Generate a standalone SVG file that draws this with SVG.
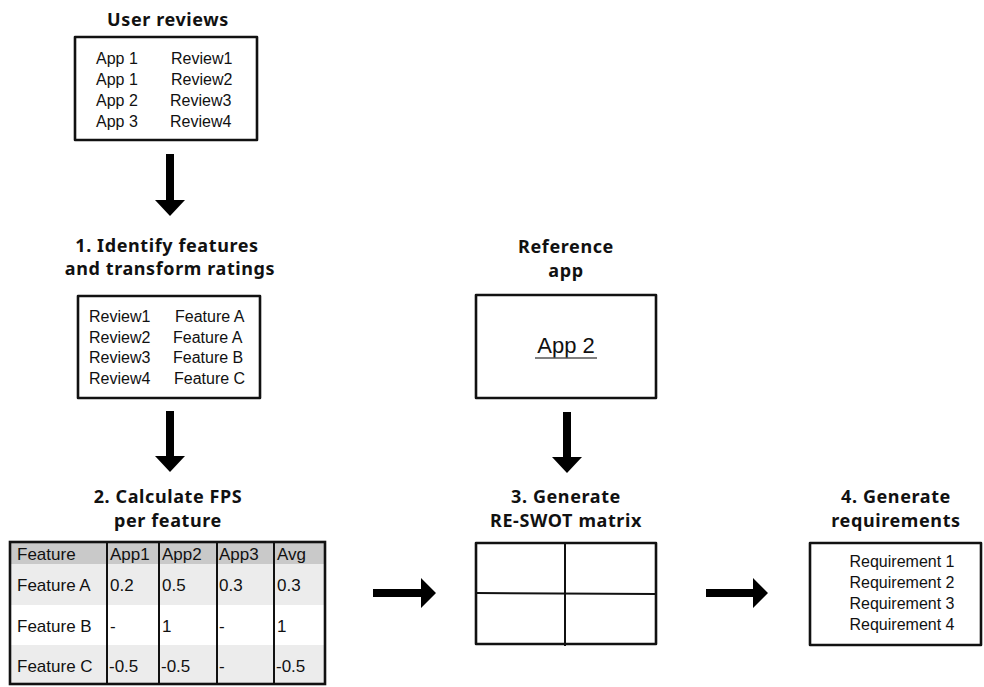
<svg xmlns="http://www.w3.org/2000/svg" width="984" height="687" viewBox="0 0 984 687">
  <style>
    .title { font-family: "Noto Sans", "DejaVu Sans", sans-serif; font-weight: bold; font-size: 18px; letter-spacing: 0.6px; fill: #111; text-anchor: middle; }
    .txt { font-family: "Liberation Sans", Arial, sans-serif; font-size: 16px; fill: #111; }
    .cell { font-family: "Liberation Sans", Arial, sans-serif; font-size: 17px; fill: #111; }
    .box { fill: #fff; stroke: #111; stroke-width: 2.6; stroke-linejoin: round; }
    .grid { fill: none; stroke: #111; stroke-width: 2; }
    .arrow { fill: #000; }
  </style>

  <rect width="984" height="687" fill="#fff"/>

  <!-- Input: user reviews -->
  <g id="user-reviews">
    <text class="title" x="168" y="26">User reviews</text>
    <rect class="box" x="75" y="37" width="182" height="103"/>
    <text class="txt" x="96" y="64">App 1</text>
    <text class="txt" x="171" y="64">Review1</text>
    <text class="txt" x="96" y="85">App 1</text>
    <text class="txt" x="171" y="85">Review2</text>
    <text class="txt" x="96" y="106">App 2</text>
    <text class="txt" x="170" y="106">Review3</text>
    <text class="txt" x="96" y="127">App 3</text>
    <text class="txt" x="170" y="127">Review4</text>
  </g>

  <!-- Step 1: identify features -->
  <g id="identify-features">
    <text class="title" x="167" y="252">1. Identify features</text>
    <text class="title" x="170" y="275">and transform ratings</text>
    <rect class="box" x="78" y="296" width="182" height="102"/>
    <text class="txt" x="89" y="322">Review1</text>
    <text class="txt" x="175" y="322">Feature A</text>
    <text class="txt" x="89" y="343">Review2</text>
    <text class="txt" x="173" y="343">Feature A</text>
    <text class="txt" x="89" y="363">Review3</text>
    <text class="txt" x="173" y="363">Feature B</text>
    <text class="txt" x="89" y="384">Review4</text>
    <text class="txt" x="174" y="384">Feature C</text>
  </g>

  <!-- Step 2: FPS table -->
  <g id="fps-table">
    <text class="title" x="168" y="503">2. Calculate FPS</text>
    <text class="title" x="168" y="527">per feature</text>
    <rect x="10" y="542" width="315" height="22" fill="#c9c9c9"/>
    <rect x="10" y="564" width="315" height="41" fill="#ececec"/>
    <rect x="10" y="605" width="315" height="40" fill="#ffffff"/>
    <rect x="10" y="645" width="315" height="39" fill="#ececec"/>
    <line class="grid" x1="107" y1="542" x2="107" y2="684"/>
    <line class="grid" x1="159" y1="542" x2="159" y2="684"/>
    <line class="grid" x1="217" y1="542" x2="217" y2="684"/>
    <line class="grid" x1="274" y1="542" x2="274" y2="684"/>
    <rect x="10" y="542" width="315" height="142" fill="none" stroke="#111" stroke-width="2.6"/>
    <text class="cell" x="17" y="560">Feature</text>
    <text class="cell" x="110" y="560">App1</text>
    <text class="cell" x="162" y="560">App2</text>
    <text class="cell" x="219" y="560">App3</text>
    <text class="cell" x="277" y="560">Avg</text>
    <text class="cell" x="17" y="591">Feature A</text>
    <text class="cell" x="110" y="591">0.2</text>
    <text class="cell" x="162" y="591">0.5</text>
    <text class="cell" x="219" y="591">0.3</text>
    <text class="cell" x="277" y="591">0.3</text>
    <text class="cell" x="17" y="632">Feature B</text>
    <text class="cell" x="110" y="632">-</text>
    <text class="cell" x="162" y="632">1</text>
    <text class="cell" x="219" y="632">-</text>
    <text class="cell" x="277" y="632">1</text>
    <text class="cell" x="17" y="672">Feature C</text>
    <text class="cell" x="109" y="672">-0.5</text>
    <text class="cell" x="161" y="672">-0.5</text>
    <text class="cell" x="219" y="672">-</text>
    <text class="cell" x="276" y="672">-0.5</text>
  </g>

  <!-- Reference app -->
  <g id="reference-app">
    <text class="title" x="566" y="253">Reference</text>
    <text class="title" x="566" y="277">app</text>
    <rect class="box" x="476" y="295" width="180" height="103"/>
    <text x="566" y="353" font-family="Liberation Sans, Arial, sans-serif" font-size="22" fill="#111" text-anchor="middle">App 2</text>
    <line x1="535" y1="358" x2="597" y2="358" stroke="#555" stroke-width="1.5"/>
  </g>

  <!-- Step 3: RE-SWOT matrix -->
  <g id="re-swot">
    <text class="title" x="566" y="503">3. Generate</text>
    <text class="title" x="566" y="527">RE-SWOT matrix</text>
    <rect class="box" x="476" y="543" width="180" height="101"/>
    <line class="grid" x1="565" y1="543" x2="565" y2="646"/>
    <line class="grid" x1="476" y1="593" x2="656" y2="594"/>
  </g>

  <!-- Step 4: requirements -->
  <g id="requirements">
    <text class="title" x="896" y="503">4. Generate</text>
    <text class="title" x="896" y="527">requirements</text>
    <rect class="box" x="810" y="543" width="171" height="102"/>
    <text class="txt" x="902" y="567" text-anchor="middle">Requirement 1</text>
    <text class="txt" x="902" y="588" text-anchor="middle">Requirement 2</text>
    <text class="txt" x="902" y="609" text-anchor="middle">Requirement 3</text>
    <text class="txt" x="902" y="630" text-anchor="middle">Requirement 4</text>
  </g>

  <!-- Connectors -->
  <g id="connectors">
    <polygon class="arrow" points="166,154 174,154 174,200 185,200 170,216 155,200 166,200"/>
    <polygon class="arrow" points="166,411 174,411 174,456 185,456 170,472 155,456 166,456"/>
    <polygon class="arrow" points="563,412 571,412 571,457 582,457 567,473 552,457 563,457"/>
    <polygon class="arrow" points="373,589 421,589 421,578 436,593 421,608 421,597 373,597"/>
    <polygon class="arrow" points="706,589 753,589 753,578 768,593 753,608 753,597 706,597"/>
  </g>
</svg>
